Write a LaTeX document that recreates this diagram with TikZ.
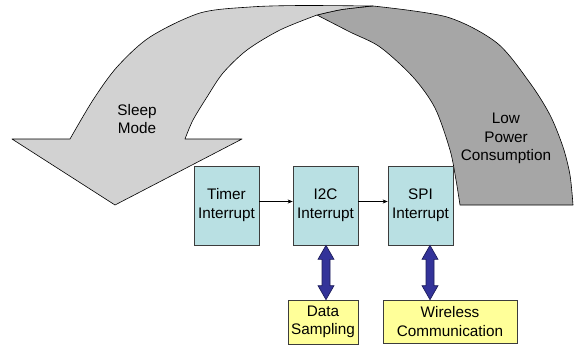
\documentclass[tikz,border=0pt]{standalone}
\usepackage{fontspec}
\setmainfont{Liberation Sans}
\usetikzlibrary{arrows.meta,calc}
\definecolor{lightband}{RGB}{210,210,210}
\definecolor{darkband}{RGB}{166,166,166}
\definecolor{boxcyan}{RGB}{185,224,227}
\definecolor{boxyellow}{RGB}{255,255,153}
\definecolor{navyfill}{RGB}{51,51,153}
\definecolor{navyline}{RGB}{30,30,90}
\definecolor{boxline}{RGB}{60,60,60}
\tikzset{
  band/.style={draw=black,line width=0.6pt,line join=round},
  labeltext/.style={align=center,font=\fontsize{15.3}{18.5}\selectfont,inner sep=0pt},
  intbox/.style={draw=boxline,fill=boxcyan,line width=0.7pt,minimum width=65pt,minimum height=79pt,align=center,font=\fontsize{15.3}{19}\selectfont,inner sep=0pt},
  taskbox/.style={draw=boxline,fill=boxyellow,line width=0.7pt,minimum height=44pt,align=center,font=\fontsize{15.3}{18.5}\selectfont,inner sep=0pt},
  flow/.style={draw=black,line width=0.6pt,-{Stealth[length=5pt,width=4pt]}},
  blockarrow/.style={fill=navyfill,draw=navyline,line width=0.7pt,line join=miter}
}
\begin{document}
\begin{tikzpicture}[x=1pt,y=-1pt]
\path[fill=white,use as bounding box] (0,0) rectangle (575,349);

% dark back band
\filldraw[band,fill=darkband]
  plot[smooth] coordinates {(373,6) (447,17) (497,43) (530,83) (550,115) (563,147) (570,175) (573,205)}
  -- (460,205)
  -- plot[smooth] coordinates {(460,205) (456,180) (450,150) (435,108) (413,77) (380,47) (350,32) (317,15)}
  -- plot[smooth] coordinates {(317,15) (342,9.5) (373,6)} -- cycle;

% light front band with arrow head
\filldraw[band,fill=lightband]
  plot[smooth] coordinates {(373,6) (300,5.5) (250,7) (200,13) (150,37) (117,67) (93,100) (70,139)}
  -- (12,139) -- (115,205) -- (242,139) -- (185,139)
  -- plot[smooth] coordinates {(185,139) (193,120) (207,97) (223,73) (247,50) (280,30) (317,15)}
  -- plot[smooth] coordinates {(317,15) (342,9.5) (373,6)} -- cycle;

\node[labeltext] (sleep) at (137,119) {Sleep\\Mode};
\node[labeltext] (lowpower) at (506,138.5) {Low\\Power\\Consumption};

\node[intbox] (timer) at (226.5,205.5) {Timer\\Interrupt};
\node[intbox] (i2c) at (325.5,205.5) {I2C\\Interrupt};
\node[intbox] (spi) at (420.5,205.5) {SPI\\Interrupt};

\node[taskbox,minimum width=70pt] (data) at (323,322) {Data\\Sampling};
\node[taskbox,minimum width=134pt,minimum height=43pt] (wireless) at (450,321.5) {Wireless\\Communication};

\draw[flow] ($(timer.east)+(0,-4)$) -- ($(i2c.west)+(0,-4)$);
\draw[flow] ($(i2c.east)+(0,-4)$) -- ($(spi.west)+(0,-4)$);

\draw[blockarrow] let \p1=($(i2c.south)+(0.5pt,0)$), \p2=(data.north) in
  (\x1,\y1) -- (\x1+8pt,\y1-14pt) -- (\x1+4pt,\y1-14pt) -- (\x1+4pt,\y2+14pt) -- (\x1+8pt,\y2+14pt)
  -- (\x1,\y2) -- (\x1-8pt,\y2+14pt) -- (\x1-4pt,\y2+14pt) -- (\x1-4pt,\y1-14pt) -- (\x1-8pt,\y1-14pt) -- cycle;
\draw[blockarrow] let \p1=($(spi.south)+(9.5pt,0)$), \p2=(wireless.north) in
  (\x1,\y1) -- (\x1+8pt,\y1-14pt) -- (\x1+4pt,\y1-14pt) -- (\x1+4pt,\y2+14pt) -- (\x1+8pt,\y2+14pt)
  -- (\x1,\y2) -- (\x1-8pt,\y2+14pt) -- (\x1-4pt,\y2+14pt) -- (\x1-4pt,\y1-14pt) -- (\x1-8pt,\y1-14pt) -- cycle;
\end{tikzpicture}
\end{document}
